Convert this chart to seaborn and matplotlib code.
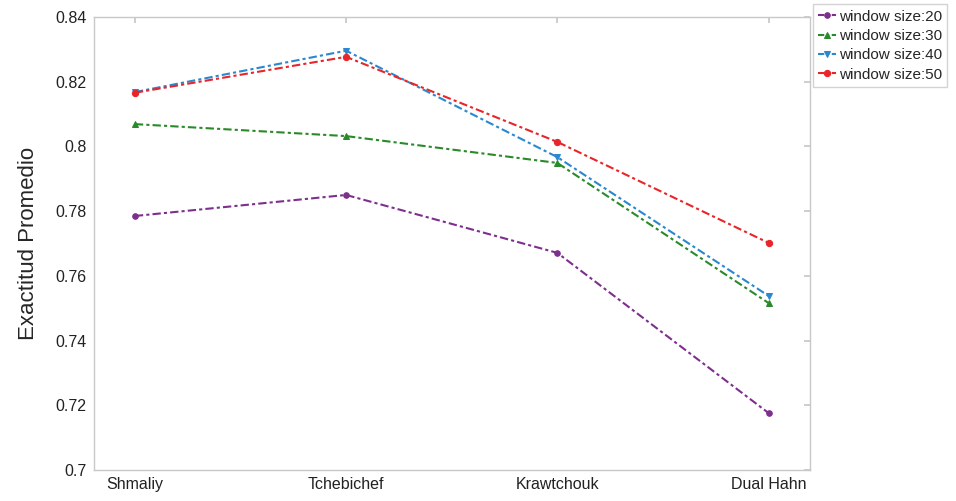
import matplotlib
matplotlib.use("Agg")
import matplotlib.pyplot as plt
import seaborn as sns
import pandas as pd

categories = ["Shmaliy", "Tchebichef", "Krawtchouk", "Dual Hahn"]
ws20 = [0.7785, 0.7850, 0.7671, 0.7176]
ws30 = [0.8069, 0.8032, 0.7949, 0.7516]
ws40 = [0.8168, 0.8296, 0.7967, 0.7538]
ws50 = [0.8166, 0.8277, 0.8014, 0.7702]
labels = ["window size:20", "window size:30", "window size:40", "window size:50"]
yticks = [0.70, 0.72, 0.74, 0.76, 0.78, 0.80, 0.82, 0.84]
ytick_labels = ["0.7", "0.72", "0.74", "0.76", "0.78", "0.8", "0.82", "0.84"]

sns.set_theme(style="white")
plt.rcParams['font.family'] = ['Liberation Sans', 'DejaVu Sans']

colors = ["#7e2f8e", "#2a8a2a", "#2a88cf", "#e8262a"]
markers = ["o", "^", "v", "o"]
msizes = [4, 5, 5, 4.5]

fig = plt.figure(figsize=(9.56, 5.01), dpi=100)
ax = fig.add_axes([0.098, 0.062, 0.749, 0.904])

for vals, lab, c, m, ms in zip([ws20, ws30, ws40, ws50], labels, colors, markers, msizes):
    df = pd.DataFrame({"x": list(range(len(categories))), "y": vals})
    sns.lineplot(data=df, x="x", y="y", ax=ax, color=c, linewidth=1.5,
                 marker=m, markersize=ms, markeredgecolor=c, label=lab,
                 dashes=False)
    ax.lines[-1].set_dashes((4, 1.5, 1.5, 1.5))

ax.set_xlim(-0.195, 3.195)
ax.set_ylim(0.70, 0.84)
ax.set_xticks(range(len(categories)))
ax.set_xticklabels(categories, fontsize=11.5)
ax.set_yticks(yticks)
ax.set_yticklabels(ytick_labels, fontsize=11.5)
ax.set_xlabel("")
ax.set_ylabel("Exactitud Promedio", fontsize=16, labelpad=12)
for s in ax.spines.values():
    s.set_color("#c8c8c8")
    s.set_linewidth(1.0)
ax.tick_params(axis="both", direction="in", length=4, color="#c8c8c8",
               top=True, right=True, labelcolor="#222222", pad=5)

leg = ax.legend(loc="upper left", bbox_to_anchor=(1.004, 1.028), fontsize=11,
                frameon=True, handlelength=1.2, handletextpad=0.15,
                borderpad=0.35, labelspacing=0.35, borderaxespad=0.0)
leg.get_frame().set_edgecolor("#c8c8c8")
leg.get_frame().set_linewidth(1.0)
leg.get_frame().set_boxstyle("square", pad=0.0)
for h in leg.get_lines():
    h.set_dashes((3, 1.2, 1.2, 1.2))

fig.savefig("out.png", dpi=100)
